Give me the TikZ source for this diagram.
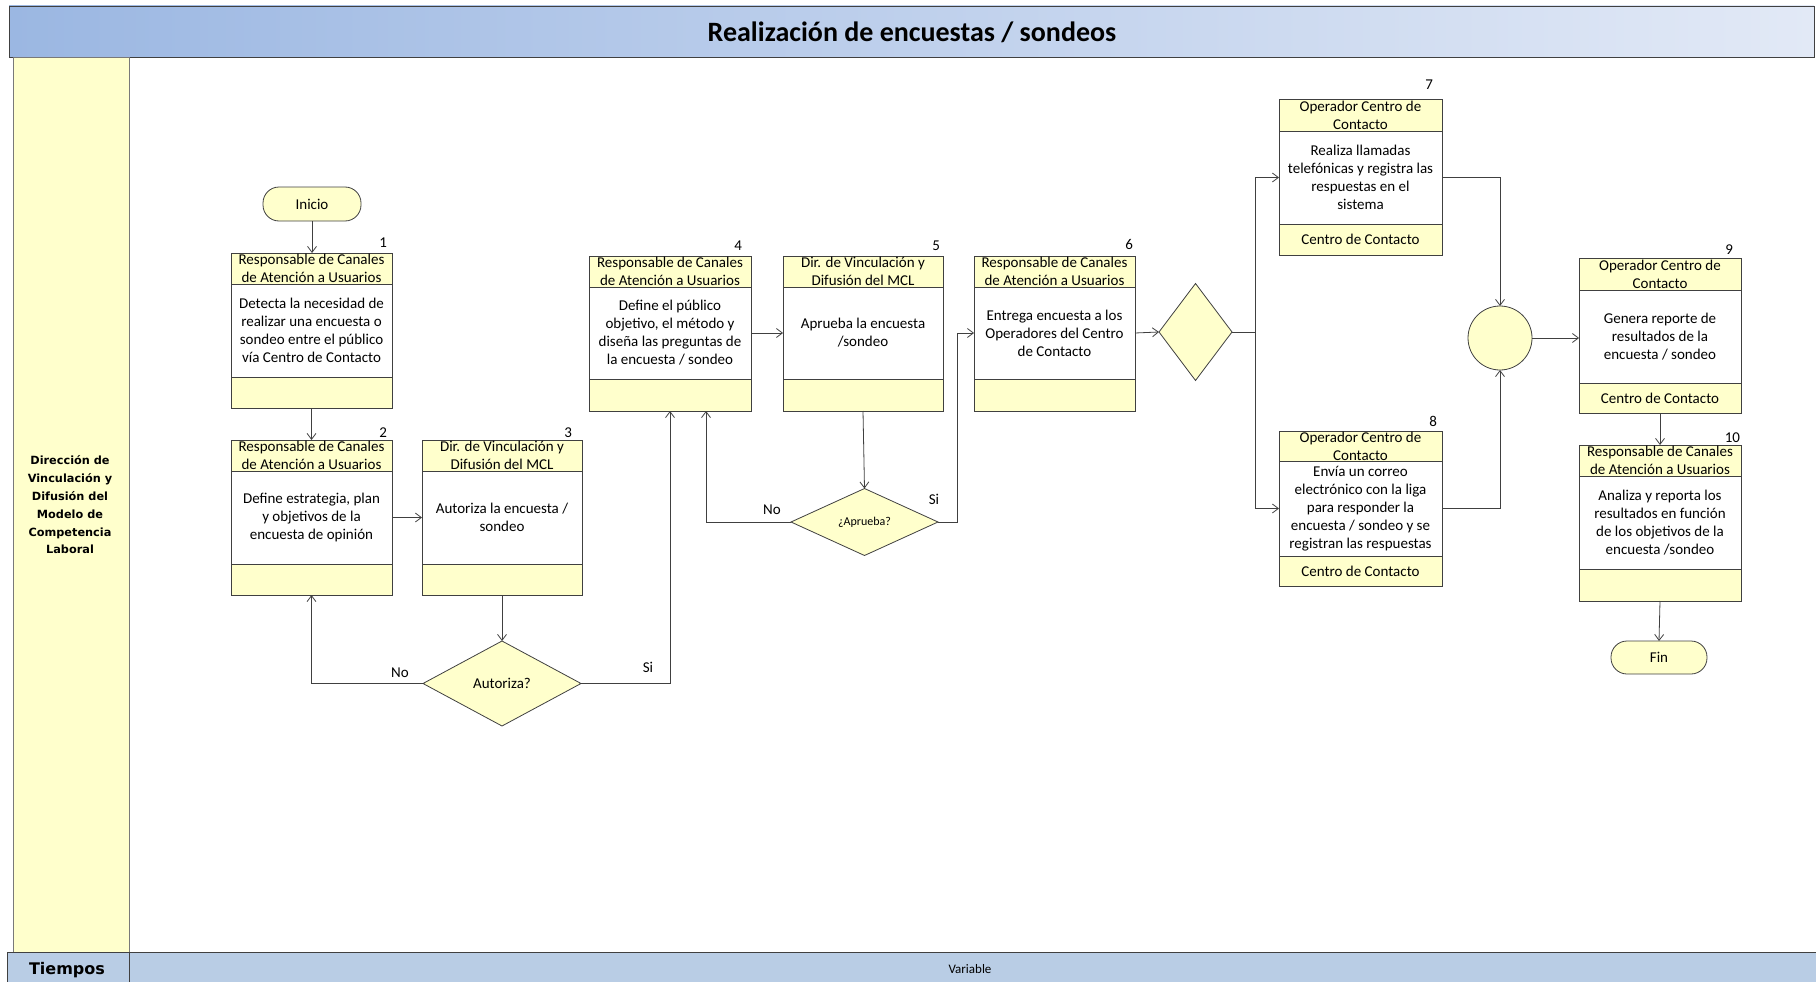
\documentclass[tikz,border=0pt]{standalone}
\usepackage{fontspec}
\setmainfont{Carlito}
\newfontfamily\lanefont{DejaVu Sans}
\usetikzlibrary{arrows.meta,shapes.geometric,calc}
\definecolor{yel}{RGB}{255,255,204}
\definecolor{lnc}{RGB}{64,64,64}
\definecolor{tleft}{RGB}{155,183,226}
\definecolor{tright}{RGB}{226,233,246}
\definecolor{tbar}{RGB}{185,205,229}
\tikzset{
  every node/.style={inner sep=0pt, outer sep=0pt},
  txt/.style={align=center, font=\fontsize{15}{18}\selectfont},
  hdrbox/.style={draw=lnc, line width=0.8pt, fill=yel, rectangle},
  bdybox/.style={draw=lnc, line width=0.8pt, fill=white, rectangle},
  arr/.style={draw=lnc, line width=0.8pt, -{Straight Barb[length=6pt,width=9pt]}},
  plain/.style={draw=lnc, line width=0.8pt},
  numlbl/.style={font=\fontsize{15}{18}\selectfont, anchor=base east},
  declbl/.style={font=\fontsize{15}{18}\selectfont},
  decbox/.style={diamond, draw=lnc, fill=yel, line width=0.8pt, align=center},
  termbox/.style={draw=lnc, fill=yel, line width=0.8pt, rectangle, rounded corners=16pt, font=\fontsize{15}{18}\selectfont},
}
% name, L, R, T, H, F, B, header, body
\newcommand\pbox[9]{%
  \node[hdrbox, minimum width={(#3-#2)*1pt}, minimum height={(#5-#4)*1pt}] (#1h) at ({(#2+#3)/2},{(#4+#5)/2}) {};
  \node[bdybox, minimum width={(#3-#2)*1pt}, minimum height={(#6-#5)*1pt}] (#1b) at ({(#2+#3)/2},{(#5+#6)/2}) {};
  \node[hdrbox, minimum width={(#3-#2)*1pt}, minimum height={(#7-#6)*1pt}] (#1f) at ({(#2+#3)/2},{(#6+#7)/2}) {};
  \node[minimum width={(#3-#2)*1pt}, minimum height={(#7-#4)*1pt}] (#1) at ({(#2+#3)/2},{(#4+#7)/2}) {};
  \node[txt] (#1ht) at (#1h) {#8};
  \node[txt] (#1bt) at (#1b) {#9};
}
\begin{document}
\begin{tikzpicture}[x=1pt,y=-1pt]
\useasboundingbox (0,0) rectangle (1816,982);
% frame
\node[draw=lnc, line width=0.8pt, left color=tleft, right color=tright, minimum width=1805pt, minimum height=51pt] (title) at (911.5,31.5) {};
\node[font=\fontsize{28}{32}\selectfont\bfseries] (titletext) at (912,32) {Realización de encuestas / sondeos};
\node[draw=lnc!70, line width=0.8pt, fill=yel, minimum width=116pt, minimum height=895pt] (lane) at (71,504.5) {};
\node[align=center, font=\lanefont\fontsize{11.3}{17.8}\selectfont\bfseries] (lanetext) at (70,505) {Dirección de\\Vinculación y\\Difusión del\\Modelo de\\Competencia\\Laboral};
\node[draw=lnc, line width=0.8pt, fill=tbar, minimum width=122pt, minimum height=30pt] (tiempos) at (68,967) {};
\node[draw=lnc, line width=0.8pt, fill=tbar, minimum width=1687pt, minimum height=30pt] (timebar) at (972.5,967) {};
\node[font=\lanefont\fontsize{16}{18}\selectfont\bfseries] (tiempostext) at (67,970) {Tiempos};
\node[font=\fontsize{13}{16}\selectfont] (variabletext) at (970,969) {Variable};

% terminals
\node[termbox, minimum width=98pt, minimum height=34pt] (inicio) at (312,204) {Inicio};
\node[termbox, minimum width=96pt, minimum height=33pt] (fin) at (1659,657.5) {Fin};

% process boxes
\pbox{b1}{231}{392}{253}{284}{377}{408}{Responsable de Canales\\de Atención a Usuarios}{Detecta la necesidad de\\realizar una encuesta o\\sondeo entre el público\\vía Centro de Contacto}
\pbox{b2}{231}{392}{440}{471}{564}{595}{Responsable de Canales\\de Atención a Usuarios}{Define estrategia, plan\\y objetivos de la\\encuesta de opinión}
\pbox{b3}{422}{582}{440}{471}{564}{595}{Dir. de Vinculación y\\Difusión del MCL}{Autoriza la encuesta /\\sondeo}
\pbox{b4}{589}{751}{256}{287}{379}{411}{Responsable de Canales\\de Atención a Usuarios}{Define el público\\objetivo, el método y\\diseña las preguntas de\\la encuesta / sondeo}
\pbox{b5}{783}{943}{256}{287}{379}{411}{Dir. de Vinculación y\\Difusión del MCL}{Aprueba la encuesta\\/sondeo}
\pbox{b6}{974}{1135}{256}{287}{379}{411}{Responsable de Canales\\de Atención a Usuarios}{Entrega encuesta a los\\Operadores del Centro\\de Contacto}
\pbox{b7}{1279}{1442}{99}{131}{224}{255}{Operador Centro de\\Contacto}{Realiza llamadas\\telefónicas y registra las\\respuestas en el\\sistema}
\pbox{b8}{1279}{1442}{431}{461}{556}{586}{Operador Centro de\\Contacto}{Envía un correo\\electrónico con la liga\\para responder la\\encuesta / sondeo y se\\registran las respuestas}
\pbox{b9}{1579}{1741}{258}{290}{383}{413}{Operador Centro de\\Contacto}{Genera reporte de\\resultados de la\\encuesta / sondeo}
\pbox{b10}{1579}{1741}{445}{476}{569}{601}{Responsable de Canales\\de Atención a Usuarios}{Analiza y reporta los\\resultados en función\\de los objetivos de la\\encuesta /sondeo}
\node[txt] (b7ft) at (b7f) {Centro de Contacto};
\node[txt] (b8ft) at (b8f) {Centro de Contacto};
\node[txt] (b9ft) at (b9f) {Centro de Contacto};

% numbers
\node[numlbl] (n1) at (387,247) {1};
\node[numlbl] (n2) at (387,437) {2};
\node[numlbl] (n3) at (572,437) {3};
\node[numlbl] (n4) at (742,250) {4};
\node[numlbl] (n5) at (940,250) {5};
\node[numlbl] (n6) at (1133,249) {6};
\node[numlbl] (n7) at (1433,89) {7};
\node[numlbl] (n8) at (1437,426) {8};
\node[numlbl] (n9) at (1733,254) {9};
\node[numlbl] (n10) at (1740,442) {10};

% decisions
\node[decbox, minimum width=158pt, minimum height=85pt, font=\fontsize{15}{18}\selectfont] (d1) at (502,683.5) {Autoriza?};
\node[decbox, minimum width=147pt, minimum height=67pt, font=\fontsize{12}{14}\selectfont] (d2) at (864.5,522) {¿Aprueba?};
\node[decbox, minimum width=73pt, minimum height=97pt] (d3) at (1195.5,332) {};
\node[circle, draw=lnc, fill=yel, line width=0.8pt, minimum size=64pt] (circ) at (1500,338) {};

% labels
\node[declbl] (no1) at (400,673) {No};
\node[declbl] (si1) at (648,667) {Si};
\node[declbl] (no2) at (772,510) {No};
\node[declbl] (si2) at (934,499) {Si};

% connectors
\coordinate (b4in2) at (706,411);
\coordinate (fork) at ($(d3.east)+(23,0)$);
\draw[arr] (inicio.south) -- (inicio.south |- b1.north);
\draw[arr] (b1.south) -- (b2.north);
\draw[arr] (b2b.east) -- (b3b.west);
\draw[arr] (b3.south) -- (d1.north);
\draw[arr] (d1.west) -| (b2.south);
\draw[arr] (d1.east) -| (b4.south);
\draw[arr] (b4b.east) -- (b5b.west);
\draw[arr] (b5.south) -- (d2.north);
\draw[arr] (d2.west) -| (b4in2);
\draw[arr] (d2.east) -- ++(19,0) |- (b6b.west);
\draw[arr] (b6b.east) -- (d3.west);
\draw[plain] (d3.east) -- (fork);
\draw[arr] (fork) |- (b7b.west);
\draw[arr] (fork) |- (b8b.west);
\draw[arr] (b7b.east) -| (circ.north);
\draw[arr] (b8b.east) -| (circ.south);
\draw[arr] (circ.east) -- (circ.east -| b9b.west);
\draw[arr] (b9.south) -- (b10.north);
\draw[arr] (b10.south) -- (fin.north);
\end{tikzpicture}
\end{document}
